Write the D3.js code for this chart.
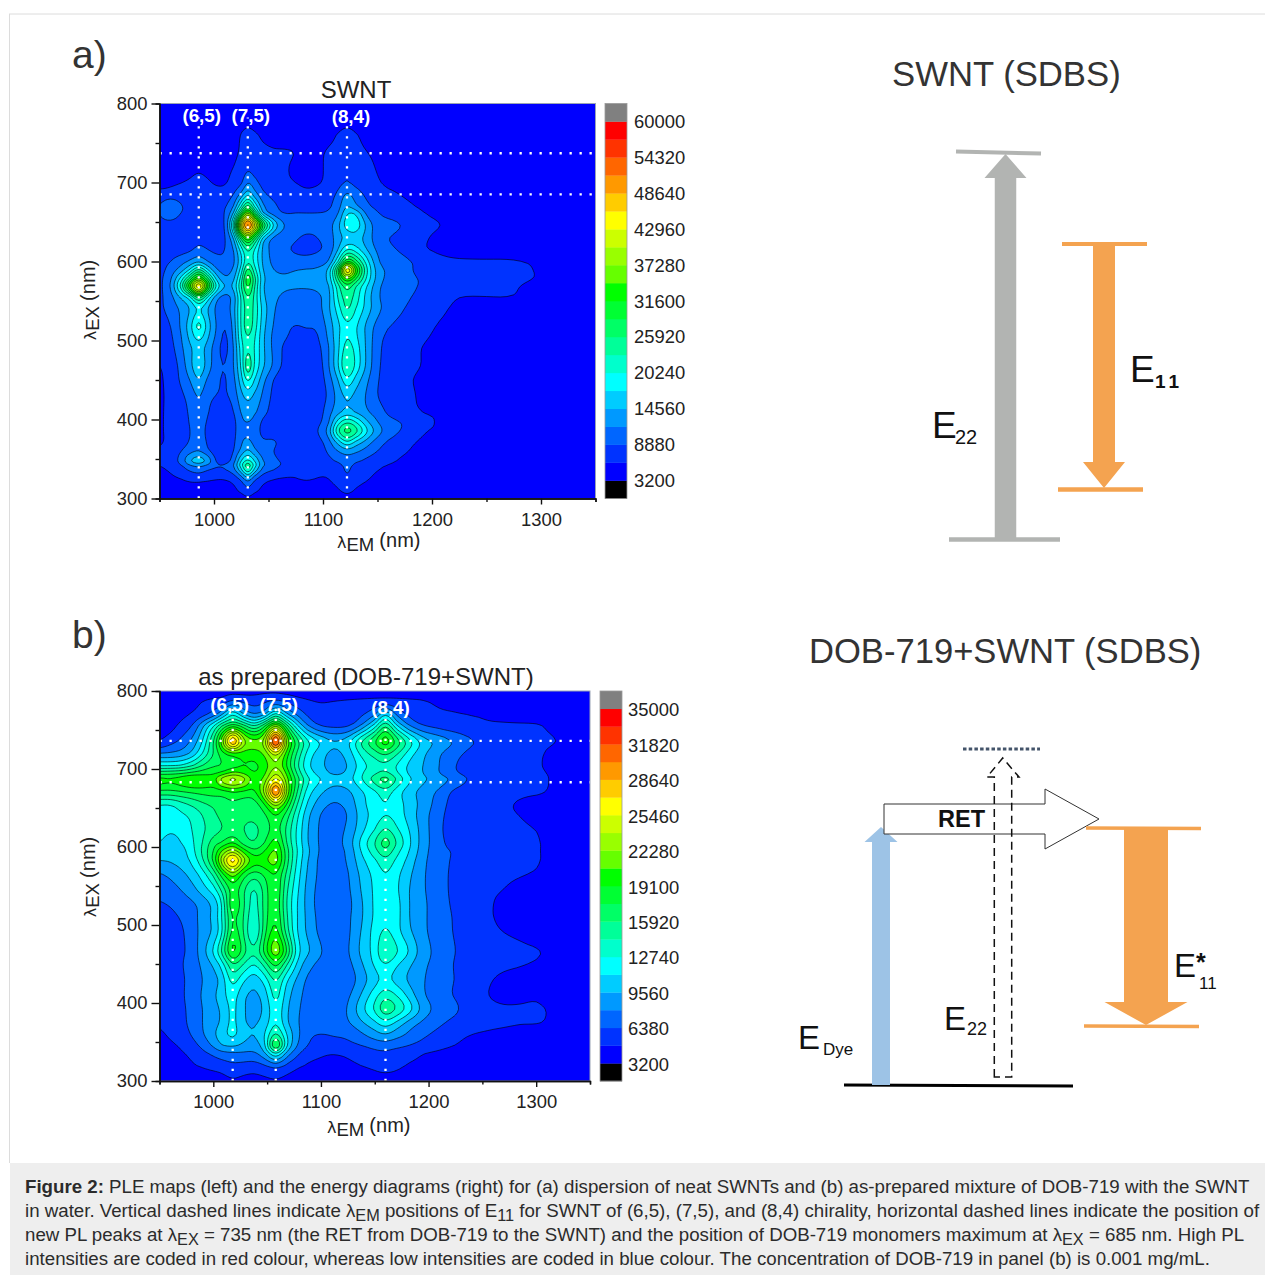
<!DOCTYPE html>
<html>
<head>
<meta charset="utf-8">
<script src="https://d3js.org/d3.v7.min.js"></script>
<style>
html, body { margin: 0; padding: 0; background: #fff; }
svg { display: block; font-family: "Liberation Sans", Arial, sans-serif; }
.axis text { font-size: 18.4px; fill: #222; font-family: "Liberation Sans", Arial, sans-serif; }
.axis path, .axis line { stroke: #111; stroke-width: 1.4px; }
</style>
</head>
<body>
<svg id="fig" width="1265" height="1275"></svg>
<script>
// ---------- Colour bar, bottom to top, one entry per step ----------
const stepColors = ['#000000', '#0000ff', '#0033ff', '#0066ff', '#0099ff', '#00ccff', '#00ffff', '#00ffcc',
    '#00ff99', '#00ff66', '#00ff33', '#00ff00', '#66ff00', '#99ff00', '#ccff00', '#ffff00', '#ffcc00',
    '#ff9900', '#ff6600', '#ff3300', '#ff0000', '#808080'];

const xTicks = [1000, 1100, 1200, 1300];
const xMinorTicks = [950, 1050, 1150, 1250, 1350];
const yTicks = [300, 400, 500, 600, 700, 800];
const yMinorTicks = [350, 450, 550, 650, 750];

// ---------- Panel a: cells are in tenths of a colour step ----------
// rows stop where the map reaches its flat background
const barLabelsA = [60000, 54320, 48640, 42960, 37280, 31600, 25920, 20240, 14560, 8880, 3200];
const chiralityA = [['(6,5)', 986], ['(7,5)', 1031], ['(8,4)', 1122]];
const peakExA = [737, 685];
const emA = [950, 960, 970, 978, 986, 994, 1002, 1010, 1018, 1025, 1031, 1037, 1045, 1055, 1065, 1075, 1085, 1095, 1105, 1114, 1122, 1130, 1140, 1150, 1160, 1175, 1190, 1205, 1225, 1250, 1275, 1300, 1320, 1350];
const exA = [800, 775, 760, 740, 720, 700, 685, 670, 660, 646, 630, 615, 600, 589, 578, 568, 555, 540, 520, 505, 490, 468, 450, 430, 410, 397, 385, 372, 360, 348, 340, 325, 310, 300];
const cellsA = [
[3],
[3,3,3,3,3,3,3,3,3,6,8,6,3,3,3,3,3,3,3,6,8,6],
[4,4,4,4,4,4,4,4,5,11,13,12,8,5,4,4,4,4,7,11,13,11,7,4],
[4,4,4,4,4,4,4,5,8,11,14,13,12,11,11,10,7,8,11,12,13,12,10,7,5],
[5,5,6,7,8,7,7,8,10,13,17,14,12,12,11,8,6,8,12,17,20,16,13,9,6,4],
[8,9,10,11,13,11,9,9,13,18,30,24,16,13,11,10,8,9,12,17,20,17,14,11,8,6,4],
[12,13,13,14,15,14,13,14,20,33,47,35,22,17,15,13,12,13,16,22,32,25,18,14,12,9,6,4],
[21,31,21,16,16,17,17,19,30,60,85,60,32,22,17,15,14,15,18,26,40,32,22,18,15,12,9,6,4],
[20,26,19,16,18,18,18,20,42,90,125,90,42,26,20,21,21,21,22,30,50,50,28,21,17,14,11,8,5],
[17,16,15,16,17,17,17,20,65,145,180,150,95,50,30,25,24,23,26,38,56,58,38,25,24,19,13,11,6,4],
[14,15,15,15,17,16,16,19,40,85,110,88,45,27,23,21,18,20,24,36,42,44,36,24,20,16,12,8,6,5,4],
[14,15,16,18,23,20,18,20,30,55,72,60,38,25,21,19,17,19,23,40,60,55,40,28,22,18,11,9,7,6,5,4],
[16,20,26,32,38,30,24,22,28,48,68,58,38,27,24,23,24,25,30,60,100,85,55,32,24,22,17,12,11,11,11,8,4],
[17,24,36,52,75,52,32,26,32,55,85,65,40,30,28,30,31,32,42,90,155,110,62,36,28,24,16,13,13,13,12,9,4],
[18,28,55,85,115,85,48,32,38,65,97,75,42,34,32,33,33,34,42,80,110,90,58,36,27,24,19,14,13,13,12,9,4],
[18,30,65,110,155,105,60,40,42,70,92,72,40,35,32,31,31,32,38,66,85,70,50,33,25,23,19,14,12,12,11,6],
[18,26,42,55,85,58,34,26,34,62,80,68,42,33,27,26,26,28,36,62,75,66,46,32,24,22,17,13,10,10,10,4],
[18,24,32,40,50,40,28,25,36,62,74,68,46,31,24,23,24,26,38,55,72,60,46,33,26,20,14,12,8,5],
[15,20,32,46,65,46,30,20,34,62,76,66,44,29,22,20,21,22,34,48,58,52,38,27,21,16,12,10,6,4],
[13,18,30,43,55,42,28,18,32,60,70,62,42,27,21,18,18,19,32,48,60,52,38,24,18,14,11,9,5],
[11,16,28,38,44,36,24,17,30,55,68,60,42,27,18,16,16,17,29,48,65,56,38,23,16,12,10,8,4],
[10,13,24,37,48,36,24,20,30,52,78,60,42,28,17,13,13,14,29,50,72,58,38,22,16,12,10,8,4],
[9,13,22,30,40,28,22,19,27,46,62,50,33,19,12,12,12,13,25,40,58,46,32,21,14,11,9,7,4],
[9,12,18,24,31,23,20,19,24,37,43,38,28,17,12,12,12,12,22,34,42,37,29,20,14,12,9,6],
[9,12,15,22,28,21,15,13,20,31,36,32,24,15,12,12,12,14,26,36,42,38,31,25,18,12,10,9,4],
[9,12,14,21,25,19,14,12,17,28,30,27,18,13,12,12,12,17,28,55,68,60,42,30,23,19,11,10,4],
[9,12,14,20,24,18,13,12,17,27,28,25,17,13,12,12,12,20,34,70,85,75,52,35,25,18,11,9,4],
[9,12,15,21,25,19,13,12,18,29,32,27,21,22,14,12,12,16,26,45,60,48,36,25,19,13,9,6],
[11,13,20,26,30,22,14,12,20,33,42,33,23,20,13,12,12,13,22,30,35,32,26,20,15,11,7,4],
[10,14,24,40,46,38,19,15,25,50,62,50,30,22,18,12,11,12,17,22,25,22,18,14,12,8,5],
[10,12,18,25,30,24,21,22,30,55,78,55,30,23,17,11,11,11,12,16,22,17,13,11,9,6,4],
[5,8,10,12,12,11,10,10,13,22,35,22,13,10,9,10,11,10,10,14,19,14,11,8,6,4],
[3,4,5,6,7,7,7,7,8,12,16,12,8,6,5,5,5,5,6,9,12,9,6,4],
[3,3,3,3,4,4,4,3,5,7,9,7,4,3,3,3,3,3,3,6,8,6]
];

// ---------- Panel b ----------
const barLabelsB = [35000, 31820, 28640, 25460, 22280, 19100, 15920, 12740, 9560, 6380, 3200];
const chiralityB = [['(6,5)', 1018], ['(7,5)', 1058], ['(8,4)', 1160]];
const peakExB = [736, 683];
const emB = [950, 960, 970, 980, 990, 1000, 1008, 1018, 1028, 1038, 1048, 1058, 1068, 1078, 1088, 1100, 1112, 1125, 1137, 1150, 1160, 1170, 1182, 1195, 1210, 1225, 1240, 1255, 1270, 1285, 1300, 1310, 1325, 1350];
const exB = [800, 785, 770, 755, 736, 720, 705, 695, 686, 671, 655, 640, 622, 606, 595, 582, 565, 545, 527, 510, 490, 467, 450, 430, 410, 392, 375, 360, 346, 335, 320, 310, 300];
const cellsB = [
[3,3,3,3,3,4,5,6,6,7,8,8,7,6,5,4,4,4,4,5,6,5,4],
[3,3,3,6,11,14,16,25,20,17,20,25,20,15,12,10,11,12,13,14,15,14,13,12,8,6,4],
[3,4,7,11,16,24,38,60,40,30,38,65,42,28,18,14,14,15,18,28,50,28,18,14,12,11,10,9,8,7,6,5],
[3,6,13,20,38,60,80,95,85,70,90,120,85,52,30,19,17,18,30,55,80,52,30,20,16,13,12,11,11,11,11,9],
[10,16,22,32,50,80,115,170,125,115,125,195,120,85,62,49,41,47,70,90,108,88,65,46,37,29,21,18,16,14,13,12,9],
[30,31,34,42,60,80,95,105,105,105,112,135,105,78,56,44,37,44,62,75,82,72,55,42,31,23,17,15,14,13,12,9],
[58,58,60,68,80,88,90,95,100,98,105,120,100,72,52,42,36,40,55,65,68,60,48,40,30,20,16,14,14,13,12,8],
[85,86,88,92,95,98,102,112,108,100,108,130,108,78,56,45,38,42,58,68,72,62,48,40,30,21,16,14,14,13,12,10,5],
[104,102,106,112,110,106,125,135,125,105,115,145,115,85,62,50,44,46,58,75,85,70,52,42,35,27,18,15,14,13,12,11,4],
[88,88,90,92,94,95,95,100,98,98,125,180,120,80,55,42,35,38,48,58,65,55,44,36,28,17,14,13,12,12,12,10],
[60,60,66,72,78,82,85,88,85,85,100,125,100,70,48,34,29,33,46,56,60,55,46,36,25,15,13,12,11,9,5],
[56,55,58,62,70,78,82,85,82,82,88,100,85,62,42,29,26,30,44,54,60,56,46,34,23,14,13,12,11,10,6],
[53,51,53,60,68,75,80,82,80,78,84,95,78,58,40,28,26,32,46,60,72,62,50,35,22,14,13,12,12,12,10,6],
[50,47,50,58,70,85,90,100,85,80,90,105,80,58,40,28,26,34,52,70,85,70,52,35,23,15,13,12,12,12,11,8],
[45,42,46,56,72,90,110,125,105,92,100,112,85,60,42,28,26,32,50,66,78,64,50,34,23,19,14,13,12,12,11,8],
[40,41,44,52,68,92,125,160,125,105,108,115,85,58,40,27,25,31,46,58,66,58,46,32,24,18,14,13,12,12,11,8],
[29,32,37,44,55,72,95,115,95,85,92,100,78,55,38,27,24,29,42,53,60,53,42,31,24,17,13,12,12,11,9,6],
[24,26,30,36,45,55,72,95,82,68,85,100,72,52,36,26,23,28,40,52,58,52,40,31,24,17,13,11,10,6,4],
[19,21,25,28,34,43,60,100,82,65,85,98,70,50,36,25,23,27,38,52,58,54,40,32,24,18,13,11,8,4],
[16,17,21,26,34,43,60,92,80,62,85,100,72,50,37,26,23,28,38,52,58,54,40,32,24,19,13,11,8,4],
[14,15,18,26,33,42,58,95,80,58,88,105,76,50,38,27,23,28,40,54,62,54,42,32,25,19,14,12,10,8,5],
[13,15,18,24,36,52,72,105,85,72,95,120,92,55,42,31,24,29,42,54,72,62,50,34,27,20,15,13,13,12,11,9,4],
[13,15,19,25,32,42,55,80,70,60,75,95,72,48,34,27,24,27,38,52,60,52,42,32,26,19,15,13,12,11,9,6],
[13,15,18,24,30,36,44,65,52,44,55,72,52,38,28,24,21,24,34,46,52,46,38,31,23,20,14,11,8,6,5,4],
[12,14,18,25,31,38,46,55,42,38,45,65,45,34,26,23,21,28,40,56,66,60,46,31,24,19,14,10,8,8,9,6],
[12,14,17,24,30,36,42,53,41,37,42,58,42,32,25,23,22,31,46,62,78,70,55,36,26,22,14,12,11,11,11,10,4],
[11,13,16,24,30,36,42,53,41,39,44,60,42,31,25,23,24,29,38,48,56,48,36,28,22,17,13,12,12,11,11,9],
[9,11,14,21,29,38,46,53,44,40,50,72,50,33,22,20,21,22,28,36,40,35,28,22,17,12,10,9,7,5,4],
[8,9,11,16,23,32,40,42,38,36,48,95,52,30,20,15,16,18,20,24,25,23,20,17,13,10,8,6,4],
[5,7,9,12,17,22,26,28,28,28,38,60,36,22,14,11,10,11,13,17,18,16,14,10,8,6,4],
[4,5,6,9,11,13,15,18,17,16,19,25,18,12,9,8,8,9,10,12,13,12,9,7,5,4],
[3,3,4,6,8,9,10,13,11,10,12,15,11,8,7,6,6,6,7,9,10,9,7,5],
[3,3,3,4,5,6,7,9,8,8,8,9,7,5,4,3,3,3,4,5,6,5,4]
];

const captionLines = [
    'PLE maps (left) and the energy diagrams (right) for (a) dispersion of neat SWNTs and (b) as-prepared mixture of DOB-719 with the SWNT',
    'in water. Vertical dashed lines indicate λ~EM~ positions of E~11~ for SWNT of (6,5), (7,5), and (8,4) chirality, horizontal dashed lines indicate the position of',
    'new PL peaks at λ~EX~ = 735 nm (the RET from DOB-719 to the SWNT) and the position of DOB-719 monomers maximum at λ~EX~ = 685 nm. High PL',
    'intensities are coded in red colour, whereas low intensities are coded in blue colour. The concentration of DOB-719 in panel (b) is 0.001 mg/mL.'
];

const svg = d3.select('#fig');
const BG = 3; // background cell value, flat right part of both maps
const UP = 4; // contour grid is 4x finer than the read-off grid

// ---------- Grid helpers ----------
function catmull(p0, p1, p2, p3, t) {
    return 0.5 * (2 * p1 + (p2 - p0) * t + (2 * p0 - 5 * p1 + 4 * p2 - p3) * t * t + (3 * p1 - p0 - 3 * p2 + p3) * t * t * t);
}

function refineLine(line) {
    const out = [];
    for (let i = 0; i < line.length - 1; i++) {
        const p0 = line[Math.max(i - 1, 0)], p1 = line[i], p2 = line[i + 1], p3 = line[Math.min(i + 2, line.length - 1)];
        for (let k = 0; k < UP; k++) out.push(catmull(p0, p1, p2, p3, k / UP));
    }
    out.push(line[line.length - 1]);
    return out;
}

// 1-2-1 pass, takes the cusps off the separable interpolation
function soften(values, nx, ny, stepAlong, count, lineCount, lineStep) {
    const out = Float64Array.from(values);
    for (let l = 0; l < lineCount; l++) {
        for (let i = 1; i < count - 1; i++) {
            const c = l * lineStep + i * stepAlong;
            out[c] = (values[c - stepAlong] + 2 * values[c] + values[c + stepAlong]) / 4;
        }
    }
    return out;
}

function refineGrid(rows, nCols) {
    const full = rows.map(r => r.concat(d3.range(nCols - r.length).map(() => BG)));
    const wide = full.map(refineLine);
    const cols = d3.range(wide[0].length).map(c => refineLine(wide.map(r => r[c])));
    const nx = cols.length, ny = cols[0].length;
    let values = new Float64Array(nx * ny);
    for (let y = 0; y < ny; y++)
        for (let x = 0; x < nx; x++) values[y * nx + x] = Math.max(cols[x][y], 1);
    for (let pass = 0; pass < 2; pass++) {
        values = soften(values, nx, ny, 1, nx, ny, nx);
        values = soften(values, nx, ny, nx, ny, nx, 1);
    }
    return { values, nx, ny };
}

// ---------- PLE map ----------
function drawMap(cfg) {
    const { left, right, top, bottom, barX, barW } = cfg;
    const x = d3.scaleLinear().domain([950, 1350]).range([left, right]);
    const y = d3.scaleLinear().domain([300, 800]).range([bottom, top]);
    const clipId = 'clip' + cfg.id;

    svg.append('clipPath').attr('id', clipId).append('rect')
        .attr('x', left).attr('y', top).attr('width', right - left).attr('height', bottom - top);

    const start = cfg.barLabels[cfg.barLabels.length - 1];
    const step = (cfg.barLabels[0] - start) / 20;
    const grid = refineGrid(cfg.cells, cfg.em.length);
    const counts = Float64Array.from(grid.values, v => start + step * v / 10);

    const fineEm = d3.scaleLinear().domain(cfg.em.map((_, i) => i * UP)).range(cfg.em).clamp(true);
    const fineEx = d3.scaleLinear().domain(cfg.ex.map((_, i) => i * UP)).range(cfg.ex).clamp(true);
    const path = d3.geoPath(d3.geoTransform({
        point(px, py) { this.stream.point(x(fineEm(px - 0.5)), y(fineEx(py - 0.5))); }
    }));

    const levels = d3.range(1, 21).map(k => start + step * k);
    const bands = d3.contours().size([grid.nx, grid.ny]).thresholds(levels)(Array.from(counts));

    const g = svg.append('g').attr('clip-path', `url(#${clipId})`);
    g.append('rect').attr('x', left).attr('y', top).attr('width', right - left).attr('height', bottom - top)
        .attr('fill', stepColors[1]);
    g.selectAll('path').data(bands).join('path')
        .attr('d', path)
        .attr('fill', (d, i) => stepColors[i + 2 > 20 ? 20 : i + 2])
        .attr('fill-rule', 'evenodd')
        .attr('stroke', '#000')
        .attr('stroke-opacity', 0.85)
        .attr('stroke-width', 0.7);

    // dotted guide lines
    const dots = { stroke: '#fff', 'stroke-width': 2.3, 'stroke-dasharray': '2.3 7.7' };
    cfg.chirality.forEach(([, em]) => {
        const l = g.append('line').attr('x1', x(em)).attr('x2', x(em)).attr('y1', bottom).attr('y2', top + cfg.labelGap);
        Object.entries(dots).forEach(([k, v]) => l.attr(k, v));
    });
    cfg.peakEx.forEach(ex => {
        const l = g.append('line').attr('x1', left).attr('x2', right).attr('y1', y(ex)).attr('y2', y(ex));
        Object.entries(dots).forEach(([k, v]) => l.attr(k, v));
    });
    cfg.chirality.forEach(([name, em], i) => {
        svg.append('text').attr('x', x(em) + cfg.labelDx[i]).attr('y', top + cfg.labelY[i])
            .attr('text-anchor', 'middle').attr('fill', '#fff').attr('font-size', 18.8).attr('font-weight', 'bold')
            .text(name);
    });

    // frame and axes
    svg.append('rect').attr('x', left).attr('y', top).attr('width', right - left).attr('height', bottom - top)
        .attr('fill', 'none').attr('stroke', '#9aa3b5').attr('stroke-width', 1);

    const xAxis = svg.append('g').attr('class', 'axis').attr('transform', `translate(0,${bottom})`);
    xAxis.call(d3.axisBottom(x).tickValues(xTicks).tickFormat(d3.format('d')).tickSizeInner(6).tickSizeOuter(0).tickPadding(8));
    svg.append('g').attr('class', 'axis').attr('transform', `translate(0,${bottom})`)
        .call(d3.axisBottom(x).tickValues(xMinorTicks).tickFormat('').tickSize(3.5));
    const yAxis = svg.append('g').attr('class', 'axis').attr('transform', `translate(${left},0)`);
    yAxis.call(d3.axisLeft(y).tickValues(yTicks).tickFormat(d3.format('d')).tickSizeInner(8).tickSizeOuter(0).tickPadding(4));
    svg.append('g').attr('class', 'axis').attr('transform', `translate(${left},0)`)
        .call(d3.axisLeft(y).tickValues(yMinorTicks).tickFormat('').tickSize(4));

    // colour bar, a 22 step strip with the labels on every second boundary
    const barY = d3.scaleLinear().domain([start - step, cfg.barLabels[0] + step]).range([bottom, top]);
    stepColors.forEach((c, i) => {
        const v0 = start + step * (i - 1);
        svg.append('rect').attr('x', barX).attr('width', barW)
            .attr('y', barY(v0 + step)).attr('height', barY(v0) - barY(v0 + step) + 0.3)
            .attr('fill', c);
    });
    svg.append('rect').attr('x', barX).attr('y', top).attr('width', barW).attr('height', bottom - top)
        .attr('fill', 'none').attr('stroke', '#9a9a9a').attr('stroke-width', 0.8);
    svg.selectAll(null).data(cfg.barLabels).join('text')
        .attr('x', barX + barW + cfg.barGap).attr('y', d => barY(d) + cfg.barDy)
        .attr('font-size', 18.4).attr('fill', '#222')
        .text(d => d);

    // titles
    svg.append('text').attr('x', 72).attr('y', cfg.letterY).attr('font-size', 39).attr('fill', '#333').text(cfg.letter);
    svg.append('text').attr('x', cfg.titleX).attr('y', top - 6).attr('text-anchor', 'middle')
        .attr('font-size', 24).attr('fill', '#222').text(cfg.title);

    // axis titles
    const xl = svg.append('text').attr('x', cfg.xLabelX).attr('y', cfg.xLabelY).attr('fill', '#222');
    xl.append('tspan').attr('font-size', 16).attr('font-family', 'DejaVu Sans').text('λ');
    xl.append('tspan').attr('font-size', 18.5).attr('dy', 3).text('EM ');
    xl.append('tspan').attr('font-size', 20).attr('dy', -4).text('(nm)');

    const yl = svg.append('text').attr('transform', `translate(96,${cfg.yLabelY}) rotate(-90)`)
        .attr('text-anchor', 'middle').attr('fill', '#222');
    yl.append('tspan').attr('font-size', 16).attr('font-family', 'DejaVu Sans').text('λ');
    yl.append('tspan').attr('font-size', 18.5).attr('dy', 3).text('EX ');
    yl.append('tspan').attr('font-size', 20).attr('dy', -4).text('(nm)');
}

// ---------- Energy diagrams ----------
const GREY = '#b2b4b2', ORANGE = '#f4a350', BLUE = '#9dc3e6';

function hline(x1, x2, y1, y2, color, w) {
    svg.append('line').attr('x1', x1).attr('x2', x2).attr('y1', y1).attr('y2', y2)
        .attr('stroke', color).attr('stroke-width', w);
}

function poly(points, fill) {
    return svg.append('polygon').attr('points', points.map(p => p.join(',')).join(' ')).attr('fill', fill);
}

function arrowV(xc, shaftW, headW, yTail, yBase, yTip, color) {
    poly([[xc - shaftW / 2, yTail], [xc - shaftW / 2, yBase], [xc - headW / 2, yBase], [xc, yTip],
        [xc + headW / 2, yBase], [xc + shaftW / 2, yBase], [xc + shaftW / 2, yTail]], color);
}

function label(x, y, size, txt, attrs = {}) {
    const t = svg.append('text').attr('x', x).attr('y', y).attr('font-size', size).attr('fill', '#111').text(txt);
    Object.entries(attrs).forEach(([k, v]) => t.attr(k, v));
    return t;
}

function drawDiagrams() {
    // upper one
    label(892, 86, 34.7, 'SWNT (SDBS)', { fill: '#333' });
    hline(956, 1041, 151.5, 153.5, GREY, 4);
    hline(949, 1060, 539.5, 539.5, GREY, 4.5);
    arrowV(1005.5, 21.5, 42, 540, 178, 154, GREY);
    hline(1062, 1147, 244, 244, ORANGE, 4);
    hline(1058, 1143, 489.5, 489.5, ORANGE, 4.5);
    arrowV(1104, 22, 42, 245, 462, 488, ORANGE);
    label(932, 438, 37, 'E');
    label(955, 444, 20, '22');
    label(1130, 382, 37, 'E');
    label(1155, 388, 19, '11', { 'letter-spacing': 4, 'font-weight': 'bold' });

    // lower one
    label(809, 663, 34.6, 'DOB-719+SWNT (SDBS)', { fill: '#333' });
    hline(844, 1073, 1085, 1086, '#000', 3.2);
    arrowV(881, 18, 33, 1085, 842, 827, BLUE);
    poly([[884, 804], [1045, 804], [1045, 789], [1099, 819], [1045, 849], [1045, 834], [884, 834]], '#fff')
        .attr('stroke', '#333').attr('stroke-width', 1);
    label(938, 827, 23.5, 'RET', { 'font-weight': 'bold' });

    svg.append('path')
        .attr('d', 'M994.3,1077 L994.3,777 L987,777 L1002.7,758 L1019,777 L1011.7,777 L1011.7,1077 Z')
        .attr('fill', 'none').attr('stroke', '#111').attr('stroke-width', 1.5).attr('stroke-dasharray', '8 5');
    svg.append('line').attr('x1', 963).attr('x2', 1040).attr('y1', 749).attr('y2', 749)
        .attr('stroke', '#44546a').attr('stroke-width', 3).attr('stroke-dasharray', '3.5 2.2');

    hline(1086, 1201, 828, 828.5, ORANGE, 3.5);
    hline(1084, 1199, 1026, 1026.5, ORANGE, 3.5);
    arrowV(1146, 44, 83, 828, 1002, 1025, ORANGE);

    label(798, 1049, 33, 'E');
    label(823, 1055, 17, 'Dye');
    label(944, 1030, 33, 'E');
    label(967, 1035, 18, '22');
    label(1174, 977, 33, 'E');
    label(1196, 971, 25, '*', { 'font-weight': 'bold' });
    label(1199, 989, 17, '11');
}

// ---------- Frame and caption ----------
function richLine(sel, str) {
    str.split('~').forEach((part, i) => {
        const sub = i % 2 === 1;
        sel.append('tspan')
            .attr('dy', sub ? 4 : (i > 0 ? -4 : 0))
            .attr('font-size', sub ? 16.3 : null)
            .text(part);
    });
}

function drawFrame() {
    hline(9, 1265, 14, 14, '#dcdcdc', 1);
    hline(9.5, 9.5, 14, 1163, '#dcdcdc', 1);
    svg.append('rect').attr('x', 10).attr('y', 1163).attr('width', 1255).attr('height', 112).attr('fill', '#eeeeee');
    captionLines.forEach((line, i) => {
        const t = svg.append('text').attr('x', 25).attr('y', 1193 + i * 24)
            .attr('font-size', 18.7).attr('fill', '#2b2b2b');
        if (i === 0) t.append('tspan').attr('font-weight', 'bold').text('Figure 2: ');
        richLine(t, line);
    });
}

drawFrame();
drawMap({
    id: 'A', left: 159.5, right: 595.5, top: 103.5, bottom: 498.5, barX: 605, barW: 22, barGap: 7, barDy: 6.5,
    em: emA, ex: exA, cells: cellsA, barLabels: barLabelsA, chirality: chiralityA, peakEx: peakExA,
    labelGap: 14, labelDx: [3, 3, 4], labelY: [18, 18, 19],
    letter: 'a)', letterY: 68, title: 'SWNT', titleX: 356,
    xLabelX: 337, xLabelY: 548, yLabelY: 300
});
drawMap({
    id: 'B', left: 159.5, right: 590, top: 691, bottom: 1081, barX: 600, barW: 22, barGap: 6, barDy: 7.5,
    em: emB, ex: exB, cells: cellsB, barLabels: barLabelsB, chirality: chiralityB, peakEx: peakExB,
    labelGap: 14, labelDx: [-3, 3, 5], labelY: [20, 20, 23],
    letter: 'b)', letterY: 648, title: 'as prepared (DOB-719+SWNT)', titleX: 366,
    xLabelX: 327, xLabelY: 1133, yLabelY: 877
});
drawDiagrams();
</script>
</body>
</html>
